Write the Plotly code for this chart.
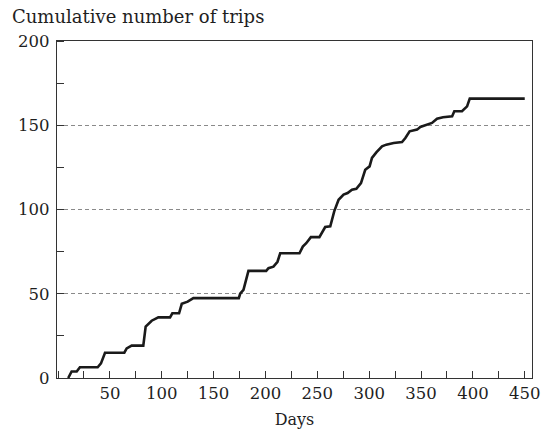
import plotly.graph_objects as go

days = [9.8, 13.1, 18.0, 21.1, 38.2, 41.4, 45.3, 63.9, 66.2, 71.0, 82.2, 84.5, 90.3, 96.7,
        108.0, 110.2, 116.7, 119.3, 125.0, 130.5, 174.3, 175.6, 178.8, 183.6, 200.7, 202.9,
        207.7, 211.6, 214.2, 232.8, 236.0, 239.3, 243.8, 252.0, 257.6, 262.5, 266.3, 270.5,
        275.3, 279.2, 283.4, 287.6, 292.1, 296.2, 300.4, 302.7, 306.9, 312.4, 316.5, 323.6,
        331.7, 334.9, 339.0, 346.2, 349.3, 355.8, 360.6, 365.4, 371.2, 380.0, 382.1, 389.5,
        394.4, 397.0, 450.0]
trips = [0, 3.9, 3.9, 6.4, 6.4, 8.7, 15, 15, 17.6, 19.2, 19.2, 30.5, 34, 36,
         36, 38.4, 38.4, 44, 45.3, 47.4, 47.4, 50, 52.3, 63.6, 63.6, 65.2,
         66.1, 69, 74, 74, 78, 80, 83.6, 83.6, 89.6, 90, 98.9, 105.8,
         108.8, 109.8, 111.7, 112.3, 115.7, 123.6, 125.6, 130.6, 133.9, 137.5, 138.5, 139.5,
         140, 142.4, 146.4, 147.4, 149, 150.4, 151.4, 153.9, 154.7, 155.3, 158.3, 158.3,
         161.2, 165.8, 165.8]

x_ticks = [50, 100, 150, 200, 250, 300, 350, 400, 450]
y_ticks = [0, 50, 100, 150, 200]

FONT = "DejaVu Serif"
TXT = "#1e1e1e"

fig = go.Figure()
fig.add_trace(go.Scatter(x=days, y=trips, mode="lines",
                         line=dict(color="#1a1a1a", width=2.6),
                         hoverinfo="skip", showlegend=False))

fig.update_layout(
    width=543, height=429,
    margin=dict(l=57, r=11, t=41, b=51),
    paper_bgcolor="white", plot_bgcolor="white",
    font=dict(family=FONT, size=16, color=TXT),
    annotations=[dict(text="Cumulative number of trips", xref="paper", yref="paper",
                      x=-47/475, y=1 + 24/337, xanchor="left", yanchor="middle",
                      showarrow=False, font=dict(family=FONT, size=18, color=TXT))],
)

fig.update_xaxes(
    range=[-1, 457], tickvals=x_ticks, ticktext=[str(v) for v in x_ticks],
    ticks="inside", ticklen=7, tickwidth=1, tickcolor="#333333",
    minor=dict(dtick=25, tick0=0, ticks="inside", ticklen=7, tickwidth=1, tickcolor="#333333"),
    showline=True, linecolor="#333333", linewidth=1.3, mirror=True,
    showgrid=False, zeroline=False, ticklabelstandoff=0, automargin=False,
    title=dict(text="Days", font=dict(family=FONT, size=16, color=TXT), standoff=11),
    tickfont=dict(family=FONT, size=16.5, color=TXT),
)
fig.update_yaxes(
    range=[0, 200], tickvals=y_ticks, ticktext=[str(v) for v in y_ticks],
    ticks="", ticklabelstandoff=3, automargin=False,
    minor=dict(dtick=25, tick0=0, ticks="inside", ticklen=7, tickwidth=1, tickcolor="#333333",
               showgrid=False),
    showline=True, linecolor="#333333", linewidth=1.3, mirror=True,
    showgrid=True, gridcolor="#8a8a8a", gridwidth=1, griddash="4px,3px",
    zeroline=False,
    tickfont=dict(family=FONT, size=16.5, color=TXT),
)

fig.write_html("out.html", config={"displayModeBar": False},
               post_script="document.body.style.margin='0';")
